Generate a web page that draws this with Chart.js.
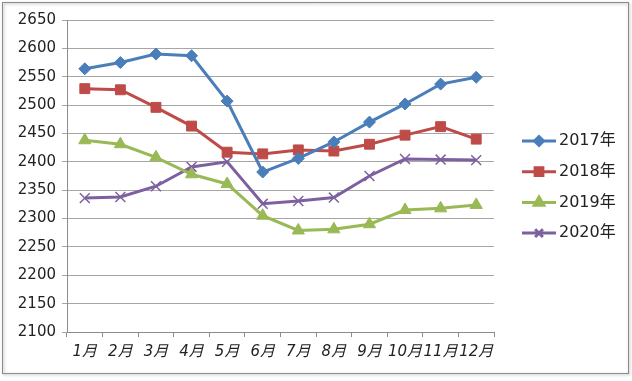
<!DOCTYPE html>
<html>
<head>
<meta charset="utf-8">
<script src="https://cdn.jsdelivr.net/npm/chart.js@4/dist/chart.umd.min.js"></script>
<style>
  html, body { margin: 0; padding: 0; background: #fff; }
  #wrap { width: 632px; height: 381px; }
</style>
</head>
<body>
<div id="wrap"><canvas id="c" width="632" height="381"></canvas></div>
<script>
const months = ['1月', '2月', '3月', '4月', '5月', '6月', '7月', '8月', '9月', '10月', '11月', '12月'];
const y2017 = [2564, 2575, 2590, 2587, 2507, 2382, 2406, 2435, 2470, 2502, 2537, 2549];
const y2018 = [2529, 2527, 2496, 2463, 2417, 2414, 2421, 2419, 2431, 2447, 2462, 2440];
const y2019 = [2438, 2431, 2408, 2378, 2361, 2305, 2279, 2281, 2290, 2315, 2318, 2324];
const y2020 = [2336, 2338, 2357, 2391, 2400, 2326, 2331, 2337, 2375, 2405, 2404, 2403];
const seriesNames = ['2017年', '2018年', '2019年', '2020年'];

const font = '"DejaVu Sans", "Noto Sans CJK SC", sans-serif';

function series(label, data, color, style, radius) {
  return {
    label, data,
    borderColor: color,
    backgroundColor: color,
    borderWidth: 3,
    pointStyle: style,
    pointRadius: radius,
    pointBorderWidth: style === 'crossRot' ? 1.5 : 1,
    pointBorderColor: color,
    tension: 0,
  };
}

// frame with light shadow, like the original picture
const frame = {
  id: 'frame',
  beforeDraw(chart) {
    const ctx = chart.ctx;
    ctx.save();
    ctx.fillStyle = '#fff';
    ctx.fillRect(0, 0, chart.width, chart.height);
    ctx.shadowColor = 'rgba(0,0,0,0.35)';
    ctx.shadowBlur = 3;
    ctx.shadowOffsetX = 1;
    ctx.shadowOffsetY = 1;
    ctx.strokeStyle = '#8c8c8c';
    ctx.lineWidth = 1;
    ctx.strokeRect(2.5, 2.5, 626, 371);
    ctx.restore();
  }
};

// legend on the right: line + marker + text
const sideLegend = {
  id: 'sideLegend',
  afterDraw(chart) {
    const ctx = chart.ctx;
    const x0 = 522, x1 = 556, top = 141, gap = 30.7;
    chart.data.datasets.forEach((ds, i) => {
      const y = top + i * gap;
      ctx.save();
      ctx.strokeStyle = ds.borderColor;
      ctx.lineWidth = 3;
      ctx.beginPath();
      ctx.moveTo(x0, y);
      ctx.lineTo(x1, y);
      ctx.stroke();
      Chart.helpers.drawPoint(ctx, {
        pointStyle: ds.pointStyle,
        radius: ds.pointRadius - 1.5,
        borderWidth: ds.pointBorderWidth,
      }, (x0 + x1) / 2, y);
      ctx.fillStyle = ds.borderColor;
      ctx.strokeStyle = ds.borderColor;
      ctx.fill();
      ctx.fillStyle = '#222';
      ctx.font = '16px ' + font;
      ctx.textBaseline = 'middle';
      ctx.fillText(ds.label, x1 + 3, y);
      ctx.restore();
    });
  }
};

new Chart(document.getElementById('c'), {
  type: 'line',
  data: {
    labels: months,
    datasets: [
      series(seriesNames[0], y2017, '#4A7EBB', 'rectRot', 6),
      series(seriesNames[1], y2018, '#BE4B48', 'rect', 7),
      series(seriesNames[2], y2019, '#98B954', 'triangle', 7),
      series(seriesNames[3], y2020, '#7D60A0', 'crossRot', 7),
    ],
  },
  options: {
    responsive: false,
    animation: false,
    layout: { padding: { left: 6, right: 138, top: 20, bottom: 0 } },
    plugins: { legend: { display: false }, tooltip: { enabled: false } },
    scales: {
      x: {
        offset: true,
        afterFit(s) { s.height = 49; },
        grid: { display: true, drawOnChartArea: false, offset: true, tickLength: 5, color: '#8c8c8c' },
        border: { color: '#8c8c8c' },
        ticks: {
          color: '#222', padding: 6, maxRotation: 0, autoSkip: false,
          font: { family: font, size: 15, style: 'italic' },
        },
      },
      y: {
        min: 2100, max: 2650,
        afterFit(s) { s.width = 61; },
        grid: { color: '#a6a6a6', lineWidth: 1, tickLength: 5, drawTicks: true },
        border: { color: '#8c8c8c' },
        ticks: {
          stepSize: 50, color: '#222', padding: 6,
          font: { family: font, size: 15 },
          callback: v => String(v),
        },
      },
    },
  },
  plugins: [frame, sideLegend],
});
</script>
</body>
</html>
